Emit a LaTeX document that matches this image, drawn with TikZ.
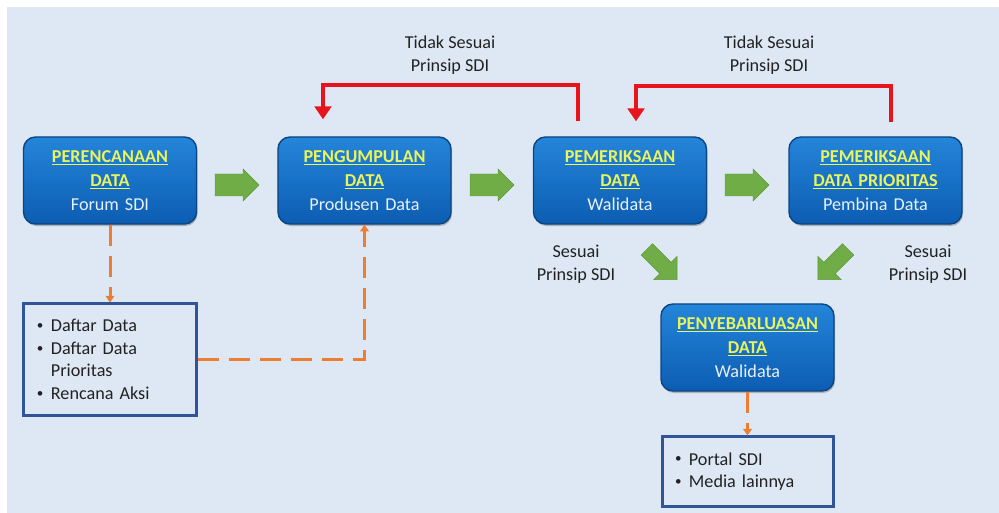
\documentclass[tikz,border=0pt]{standalone}
\usepackage{fontspec}
\usepackage{graphicx}
\setmainfont{Carlito}
\usetikzlibrary{arrows.meta,calc,shadows}

\definecolor{bg}{HTML}{DDE8F4}
\definecolor{boxtop}{HTML}{2485D9}
\definecolor{boxbot}{HTML}{0C5DB2}
\definecolor{boxline}{HTML}{0D4582}
\definecolor{titleyellow}{HTML}{E9F35C}
\definecolor{subwhite}{HTML}{EAF0F8}
\definecolor{listline}{HTML}{2F5597}
\definecolor{flowgreen}{HTML}{70AD47}
\definecolor{flowgreenline}{HTML}{5E9A3A}
\definecolor{returnred}{HTML}{E8141B}
\definecolor{linkorange}{HTML}{ED7D31}
\definecolor{textdark}{HTML}{222222}

% stage title: bold, underlined, yellow
\newcommand{\stagetitle}[1]{\textbf{\color{titleyellow}\underline{#1}}}
% small bullet with fixed indent
\newcommand{\bul}{\makebox[11.9pt][l]{\raisebox{0.12em}{\scalebox{0.72}{\textbullet}}}}
\newcommand{\bulindent}{\hspace*{11.9pt}}

% block arrow: x, y, angle, length, shaft half width, head half width
\newcommand{\blockarrow}[6]{%
  \begin{scope}[shift={(#1,#2)}, rotate=#3]
    \filldraw[flowarrow] (-#4/2,-#5) -- (#4/2-#6,-#5) -- (#4/2-#6,-#6) -- (#4/2,0)
      -- (#4/2-#6,#6) -- (#4/2-#6,#5) -- (-#4/2,#5) -- cycle;
  \end{scope}}

\begin{document}
\begin{tikzpicture}[x=0.03cm, y=-0.03cm,
  font=\fontsize{15.5pt}{19.5pt}\selectfont,
  stage/.style={rounded corners=0.36cm, draw=boxline, line width=1.2pt,
    top color=boxtop, bottom color=boxbot,
    minimum width=5.19cm, minimum height=2.61cm, text width=5cm,
    align=center, inner sep=0pt, text=subwhite,
    font=\fontsize{15.5pt}{20.4pt}\selectfont,
    drop shadow={shadow xshift=0.03cm, shadow yshift=-0.06cm, opacity=0.35, fill=black!70}},
  listbox/.style={draw=listline, line width=0.09cm, fill=bg, align=left,
    inner xsep=0.39cm, inner ysep=0pt, text=textdark,
    font=\fontsize{15.5pt}{19.3pt}\selectfont},
  note/.style={align=center, text=textdark, inner sep=0pt,
    font=\fontsize{15.5pt}{19.8pt}\selectfont},
  flowarrow/.style={fill=flowgreen, draw=flowgreenline, line width=0.4pt},
  returnline/.style={draw=returnred, line width=0.12cm, line join=miter,
    -{Triangle[length=0.39cm, width=0.5cm]}},
  linkline/.style={draw=linkorange, line width=0.09cm,
    dash pattern=on 0.63cm off 0.3cm,
    -{Triangle[length=0.2cm, width=0.26cm]}}
]
\useasboundingbox (0,0) rectangle (999,513);
\fill[white] (0,0) rectangle (999,513);
\fill[bg] (7,7) rectangle (999,513);

% stages
\node[stage] (b1) at (110,180.5) {\stagetitle{PERENCANAAN}\\\stagetitle{DATA}\\Forum SDI};
\node[stage] (b2) at (364.5,180.5) {\stagetitle{PENGUMPULAN}\\\stagetitle{DATA}\\Produsen Data};
\node[stage] (b3) at (620,180.5) {\stagetitle{PEMERIKSAAN}\\\stagetitle{DATA}\\Walidata};
\node[stage] (b4) at (875.5,180.5) {\stagetitle{PEMERIKSAAN}\\\stagetitle{DATA PRIORITAS}\\Pembina Data};
\node[stage] (b5) at (747.5,347.5) {\stagetitle{PENYEBARLUASAN}\\\stagetitle{DATA}\\Walidata};

% output lists
\node[listbox, minimum width=5.16cm, minimum height=3.33cm, text width=4.38cm] (l1) at (110,359.5)
  {\bul Daftar Data\\\bul Daftar Data\\\bulindent Prioritas\\\bul Rencana Aksi};
\node[listbox, minimum width=5.13cm, minimum height=2.07cm, text width=4.35cm] (l2) at (747.5,471.5)
  {\bul Portal SDI\\\bul Media lainnya};

% flow arrows
\blockarrow{237}{185}{0}{44}{11}{16}
\blockarrow{492}{185}{0}{44}{11}{16}
\blockarrow{747}{185}{0}{44}{11}{16}
\blockarrow{662}{264.5}{-45}{43}{8}{16.6}
\blockarrow{833}{264.5}{-135}{43}{8}{16.6}

% return paths
\draw[returnline] ($(b3.north)+(-42,-15)$) |- ($(b2.north)+(-41.5,-51)$) -- ($(b2.north)+(-41.5,-17)$);
\draw[returnline] ($(b4.north)+(15.5,-14)$) |- ($(b3.north)+(16,-50)$) -- ($(b3.north)+(16,-15)$);

% labels
\node[note] (t1) at (450,55) {Tidak Sesuai\\Prinsip SDI};
\node[note] (t2) at (769,55) {Tidak Sesuai\\Prinsip SDI};
\node[note] (s1) at (576,264.5) {Sesuai\\Prinsip SDI};
\node[note] (s2) at (928,264.5) {Sesuai\\Prinsip SDI};

% document links
\draw[linkline] (b1.south) -- (l1.north);
\draw[linkline] (l1.east) -| (b2.south);
\draw[linkline] (b5.south) -- (l2.north);
\end{tikzpicture}
\end{document}
